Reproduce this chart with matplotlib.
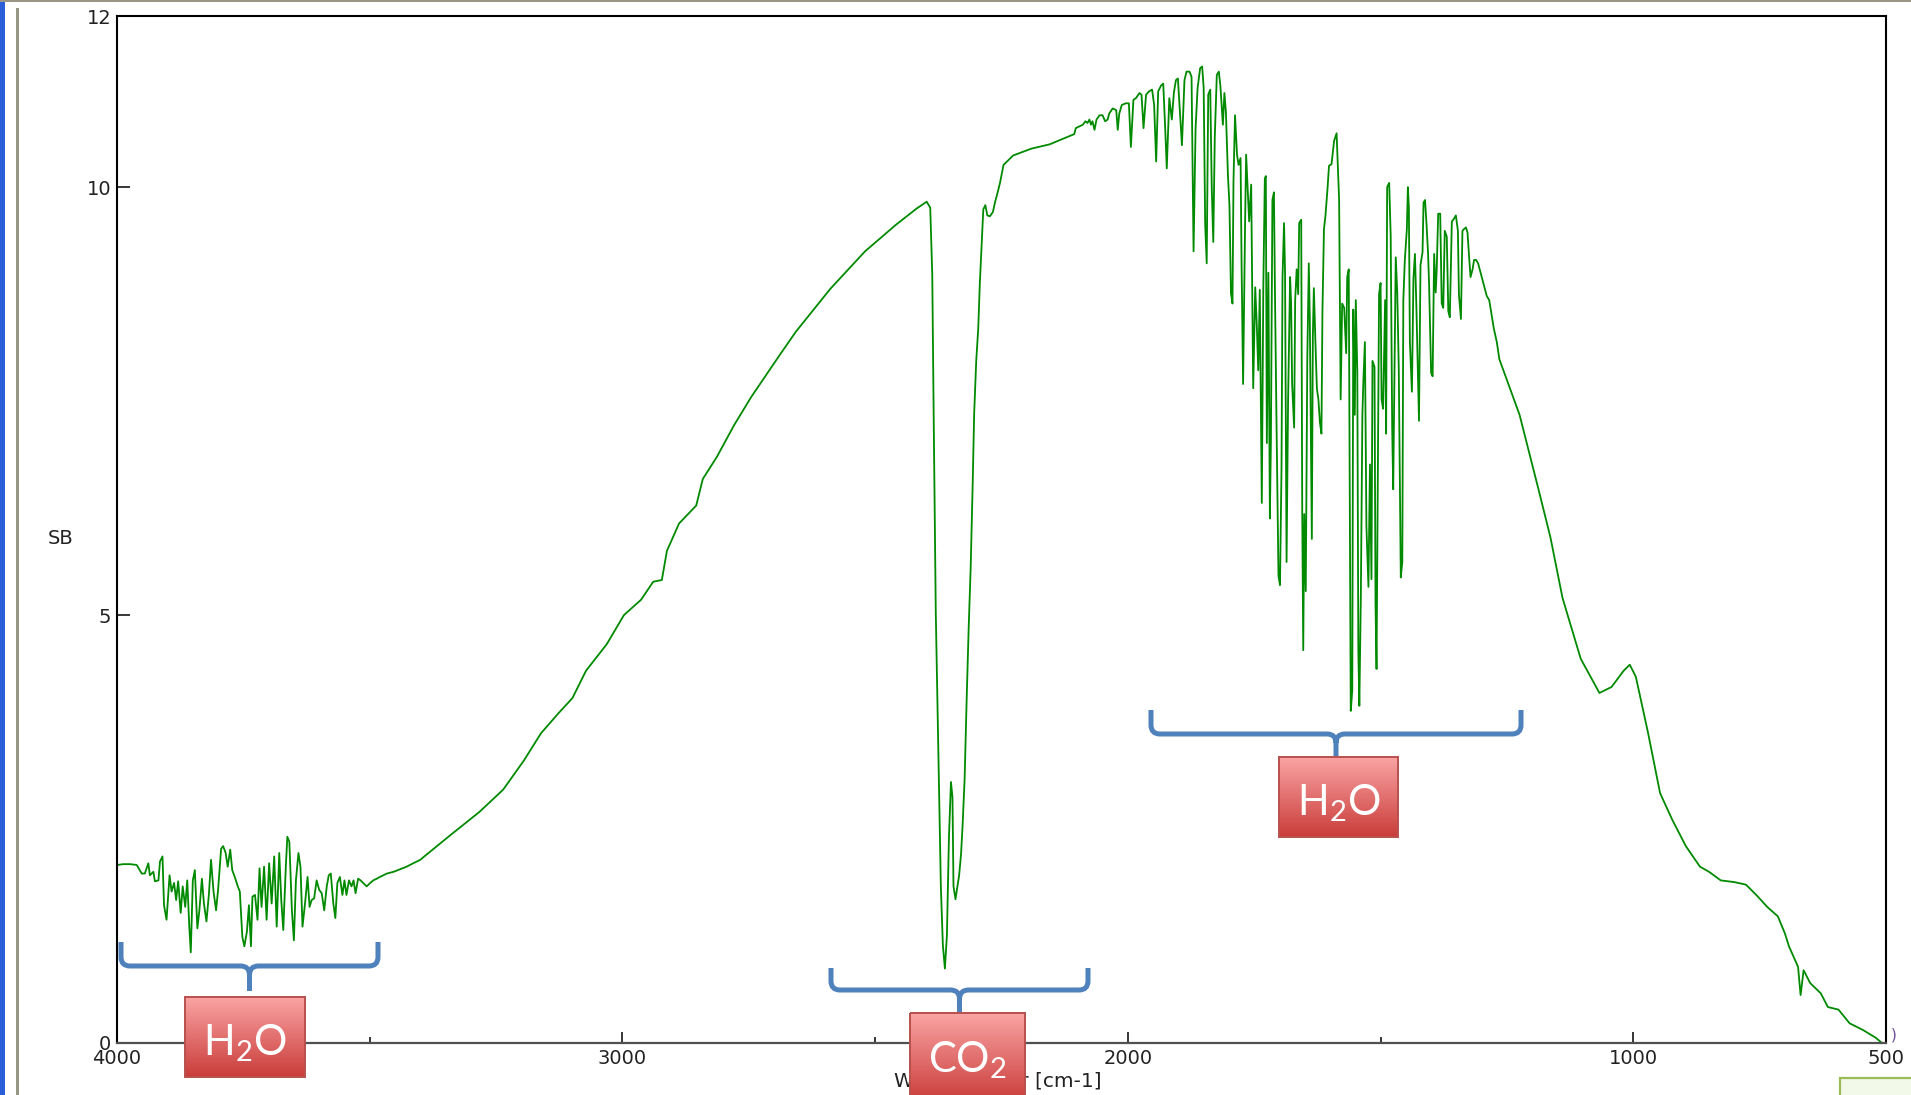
import matplotlib.pyplot as plt
import numpy as np
from matplotlib.patches import Rectangle, PathPatch
from matplotlib.path import Path

plt.rcParams['font.family'] = ['DejaVu Sans']
plt.rcParams['mathtext.fontset'] = 'custom'
plt.rcParams['mathtext.rm'] = 'Lato'
plt.rcParams['mathtext.it'] = 'Lato:italic'

# single beam spectrum, (wavenumber cm-1, SB)
water_high = [(4000, 2.08), (3987, 2.09), (3974, 2.09), (3961, 2.08), (3951, 1.98), (3945, 1.98),
              (3938, 2.10), (3935, 1.96), (3928, 2.00), (3925, 1.89), (3918, 1.90), (3915, 2.12),
              (3910, 2.18), (3907, 1.61), (3902, 1.44), (3896, 1.96), (3892, 1.77), (3887, 1.87),
              (3883, 1.67), (3879, 1.89), (3874, 1.52), (3870, 1.83), (3865, 1.59), (3861, 1.90),
              (3857, 1.36), (3854, 1.06), (3850, 1.90), (3846, 2.02), (3841, 1.34), (3837, 1.55),
              (3832, 1.92), (3828, 1.63), (3823, 1.42), (3818, 1.75), (3814, 2.14), (3809, 1.77),
              (3804, 1.55), (3800, 1.79), (3794, 2.27), (3790, 2.30), (3785, 2.22), (3781, 2.06),
              (3776, 2.26), (3772, 2.02), (3767, 1.94), (3761, 1.83), (3757, 1.77), (3752, 1.24),
              (3748, 1.13), (3743, 1.30), (3739, 1.61), (3735, 1.13), (3732, 1.71), (3727, 1.73),
              (3722, 1.44), (3718, 2.04), (3714, 1.59), (3709, 2.06), (3704, 1.44), (3699, 2.10),
              (3694, 1.63), (3689, 2.18), (3684, 1.36), (3679, 2.22), (3675, 1.67), (3671, 1.32),
              (3666, 2.06), (3663, 2.41), (3659, 2.35), (3654, 1.55), (3650, 1.20), (3646, 1.90),
              (3641, 2.22), (3637, 2.06), (3633, 1.36), (3628, 1.63), (3623, 1.94), (3619, 1.59),
              (3615, 1.67), (3610, 1.69), (3605, 1.90), (3600, 1.79), (3595, 1.75), (3590, 1.55),
              (3585, 1.83), (3581, 1.96), (3577, 1.98), (3572, 1.63), (3568, 1.46), (3564, 1.87),
              (3559, 1.94), (3554, 1.73), (3550, 1.90), (3546, 1.73), (3541, 1.90), (3536, 1.83),
              (3532, 1.90), (3528, 1.75), (3523, 1.92), (3518, 1.90), (3513, 1.87), (3506, 1.83),
              (3499, 1.87), (3493, 1.90), (3486, 1.92), (3480, 1.94), (3466, 1.98), (3453, 2.00),
              (3440, 2.03), (3427, 2.06), (3414, 2.10), (3400, 2.14), (3392, 2.18)]

rise = [(3338, 2.44), (3283, 2.70), (3236, 2.96), (3195, 3.30), (3161, 3.62), (3127, 3.85),
        (3099, 4.03), (3072, 4.35), (3031, 4.66), (2997, 5.00), (2963, 5.18), (2939, 5.39),
        (2922, 5.41), (2912, 5.75), (2888, 6.07), (2854, 6.28), (2841, 6.59), (2813, 6.85),
        (2779, 7.22), (2745, 7.55), (2691, 8.02), (2657, 8.31), (2589, 8.81), (2520, 9.25),
        (2459, 9.56), (2418, 9.75), (2398, 9.83), (2391, 9.76)]

co2 = [(2387, 8.98), (2384, 7.22), (2380, 5.02), (2374, 3.11), (2370, 1.83), (2366, 1.14),
       (2362, 0.87), (2358, 1.26), (2354, 2.40), (2350, 3.05), (2347, 2.87), (2345, 1.83),
       (2341, 1.68), (2338, 1.80), (2334, 1.95), (2330, 2.21), (2327, 2.54), (2323, 3.08),
       (2319, 4.00), (2315, 4.84), (2311, 5.55), (2307, 6.54), (2304, 7.37), (2300, 7.97),
       (2296, 8.35), (2293, 8.86), (2289, 9.37), (2286, 9.74), (2282, 9.79), (2278, 9.67),
       (2273, 9.66), (2267, 9.71), (2263, 9.82), (2258, 9.93), (2253, 10.05), (2246, 10.26),
       (2227, 10.37), (2191, 10.45), (2155, 10.50), (2106, 10.62)]

water_mid = [(2103, 10.69), (2096, 10.71), (2089, 10.73), (2084, 10.77), (2080, 10.75), (2076, 10.79),
             (2073, 10.73), (2070, 10.77), (2066, 10.67), (2062, 10.79), (2056, 10.84), (2050, 10.84),
             (2045, 10.77), (2040, 10.79), (2037, 10.86), (2030, 10.92), (2023, 10.90), (2020, 10.67),
             (2017, 10.86), (2012, 10.96), (2004, 10.98), (1998, 10.98), (1994, 10.47), (1989, 11.02),
             (1984, 11.04), (1977, 11.10), (1973, 11.08), (1969, 10.69), (1964, 11.08), (1958, 11.12),
             (1952, 11.14), (1948, 10.96), (1944, 10.30), (1940, 11.12), (1934, 11.19), (1930, 11.21),
             (1926, 10.67), (1923, 10.22), (1918, 11.04), (1913, 10.79), (1909, 11.10), (1905, 11.25),
             (1901, 11.27), (1897, 10.88), (1893, 10.49), (1888, 11.25), (1884, 11.35), (1878, 11.35),
             (1874, 11.29), (1870, 9.25), (1866, 10.69), (1862, 11.16), (1857, 11.39), (1853, 11.41),
             (1850, 11.16), (1847, 9.56), (1844, 9.11), (1841, 11.08), (1837, 11.14), (1834, 9.99),
             (1831, 9.36), (1828, 10.59), (1824, 11.31), (1820, 11.35), (1817, 11.19), (1812, 10.73),
             (1809, 11.10), (1806, 10.88), (1802, 10.14), (1799, 9.79), (1796, 8.76), (1793, 8.64),
             (1791, 10.07), (1788, 10.84), (1784, 10.38), (1781, 10.26), (1777, 10.34), (1775, 9.09),
             (1772, 7.70), (1768, 9.60), (1766, 10.38), (1763, 9.99), (1760, 9.60), (1756, 10.03),
             (1752, 7.65), (1748, 8.83), (1745, 8.40), (1742, 7.86), (1739, 8.80), (1735, 6.31),
             (1732, 8.83), (1729, 10.10), (1727, 10.13), (1725, 7.01), (1722, 9.00)]

water_low = [(1719, 6.13), (1717, 7.03), (1714, 9.85), (1711, 9.94), (1709, 8.80), (1706, 7.30),
             (1702, 5.46), (1699, 5.35), (1696, 6.72), (1694, 8.95), (1691, 9.58), (1689, 9.00),
             (1686, 5.62), (1683, 7.50), (1679, 8.95), (1677, 8.64), (1675, 7.70), (1671, 7.19),
             (1669, 8.68), (1666, 9.04), (1663, 8.75), (1661, 9.58), (1657, 9.62), (1655, 6.20),
             (1653, 4.59), (1651, 6.18), (1648, 5.28), (1645, 7.99), (1642, 9.11), (1640, 8.46),
             (1636, 5.89), (1634, 8.26), (1632, 8.82), (1628, 8.01), (1626, 7.65), (1623, 7.52),
             (1620, 7.25), (1617, 7.12), (1615, 8.55), (1612, 9.51), (1609, 9.67), (1605, 9.98),
             (1602, 10.25), (1597, 10.27), (1592, 10.54), (1587, 10.63), (1582, 9.85), (1579, 7.52),
             (1576, 8.64), (1572, 8.59), (1568, 8.06), (1566, 8.95), (1563, 9.04), (1561, 6.58),
             (1559, 3.88), (1556, 4.12), (1554, 8.57), (1551, 7.34), (1549, 8.68), (1546, 7.83),
             (1544, 4.59), (1542, 3.94), (1539, 5.24), (1536, 7.34), (1534, 7.74), (1531, 8.19),
             (1528, 6.04), (1524, 5.33), (1521, 6.76), (1518, 5.42), (1516, 7.97), (1512, 7.90),
             (1510, 5.13), (1508, 4.37), (1506, 6.11), (1503, 8.75), (1500, 8.88), (1498, 7.52),
             (1495, 7.41), (1491, 8.68), (1489, 7.12), (1487, 10.00), (1483, 10.05), (1480, 9.44),
             (1477, 7.18), (1475, 6.47), (1473, 7.56), (1470, 9.18), (1467, 8.77), (1464, 7.88),
             (1460, 5.44), (1457, 5.62), (1455, 8.68), (1452, 9.15), (1448, 9.51), (1446, 10.00),
             (1444, 9.76), (1442, 8.19), (1438, 7.61), (1435, 8.93), (1432, 9.22), (1429, 8.57),
             (1424, 7.27), (1421, 9.09), (1417, 9.24), (1415, 9.82), (1412, 9.85), (1409, 9.56),
             (1406, 9.22), (1404, 8.86), (1400, 7.83), (1397, 7.79), (1394, 9.22), (1391, 8.77),
             (1389, 9.02), (1386, 9.69), (1382, 9.69), (1379, 8.64), (1376, 8.59), (1373, 9.49),
             (1369, 9.42), (1366, 8.55), (1363, 8.48), (1359, 9.60), (1356, 9.62), (1351, 9.67),
             (1347, 9.49), (1345, 8.75), (1341, 8.46), (1338, 9.49), (1335, 9.51), (1331, 9.53),
             (1328, 9.47), (1325, 9.20), (1322, 8.95), (1318, 9.04), (1315, 9.15), (1311, 9.15),
             (1307, 9.11), (1303, 9.02), (1297, 8.88), (1290, 8.73), (1285, 8.68), (1280, 8.50),
             (1276, 8.35), (1270, 8.19), (1265, 7.99)]

tail = [(1225, 7.34), (1188, 6.48), (1164, 5.91), (1140, 5.20), (1104, 4.49), (1067, 4.09),
        (1043, 4.16), (1019, 4.35), (1007, 4.42), (995, 4.28), (971, 3.63), (947, 2.92),
        (923, 2.61), (896, 2.30), (868, 2.06), (850, 2.00), (827, 1.90), (800, 1.88),
        (777, 1.85), (755, 1.72), (735, 1.59), (714, 1.48), (700, 1.28), (692, 1.13),
        (674, 0.89), (669, 0.56), (663, 0.85), (650, 0.70), (629, 0.58), (615, 0.42),
        (594, 0.39), (572, 0.23), (545, 0.15), (520, 0.06), (508, 0.00)]

x_ticks = [4000, 3000, 2000, 1000, 500]
x_minor = [3500, 2500, 1500]
y_ticks = [0, 5, 10, 12]

spectrum = water_high + rise + co2 + water_mid + water_low + tail
wn = np.array([p[0] for p in spectrum])
sb = np.array([p[1] for p in spectrum])

W, H = 1911, 1095
fig = plt.figure(figsize=(W / 100, H / 100), dpi=100)
ax = fig.add_axes([117 / W, 1 - 1043 / H, (1886 - 117) / W, (1043 - 16) / H])

ax.plot(wn, sb, color="#008a00", lw=1.3)

ax.set_xlim(4000, 500)
ax.set_ylim(0, 12)
ax.set_xticks(x_ticks)
ax.set_xticklabels([str(t) for t in x_ticks])
ax.set_xticks(x_minor, minor=True)
ax.set_yticks(y_ticks)
ax.set_yticklabels([str(t) for t in y_ticks])
ax.tick_params(axis="both", which="major", direction="in", labelsize=14, width=1.1,
               colors="black", labelcolor="#222222")
ax.tick_params(axis="x", which="major", length=8, pad=4)
ax.tick_params(axis="x", which="minor", direction="in", length=4.5, width=1.1)
ax.tick_params(axis="y", which="major", length=9, pad=4)
for s in ["left", "top", "right"]:
    ax.spines[s].set_linewidth(1.5)
    ax.spines[s].set_color("black")
ax.spines["bottom"].set_linewidth(1.6)
ax.spines["bottom"].set_color("#505050")

fig.text(61 / W, 1 - 538 / H, "SB", ha="center", va="center", fontsize=14, color="#222222")
fig.text(998 / W, 1 - 1081 / H, "Wavenumber [cm-1]", ha="center", va="center",
         fontsize=14.5, color="#222222")

# overlay in pixel units for the slide annotations and window edges
ov = fig.add_axes([0, 0, 1, 1], zorder=5)
ov.set_xlim(0, W)
ov.set_ylim(H, 0)
ov.axis("off")

# window border bits
ov.add_patch(Rectangle((0, 0), 4.5, H, color="#2B5FD9", lw=0))
ov.add_patch(Rectangle((16, 8), 3, H, color="#9A9686", lw=0))
ov.add_patch(Rectangle((0, 0), W, 2, color="#9A9686", lw=0))
ov.add_patch(Rectangle((1840, 1078), 80, 30, facecolor="#F3F9E8", edgecolor="#9BBB59", lw=1.6))
ov.text(1894, 1035, ")", color="#6A4C9C", fontsize=11, ha="center", va="center")

brace_color = "#4F81BD"


def brace(x0, x1, ytop, ymid, ybot, r=9):
    xc = (x0 + x1) / 2
    verts = [(x0, ytop), (x0, ymid - r), (x0, ymid), (x0 + r, ymid), (xc - r, ymid),
             (xc, ymid), (xc, ymid + r), (xc, ybot),
             (x1, ytop), (x1, ymid - r), (x1, ymid), (x1 - r, ymid), (xc + r, ymid),
             (xc, ymid), (xc, ymid + r)]
    codes = [Path.MOVETO, Path.LINETO, Path.CURVE3, Path.CURVE3, Path.LINETO,
             Path.CURVE3, Path.CURVE3, Path.LINETO,
             Path.MOVETO, Path.LINETO, Path.CURVE3, Path.CURVE3, Path.LINETO,
             Path.CURVE3, Path.CURVE3]
    ov.add_patch(PathPatch(Path(verts, codes), facecolor="none", edgecolor=brace_color,
                           lw=3.6, capstyle="butt", joinstyle="round"))


top_rgb = np.array([0.98, 0.64, 0.64])
bot_rgb = np.array([0.79, 0.24, 0.23])
grad = np.linspace(0, 1, 64)[:, None, None] * (bot_rgb - top_rgb) + top_rgb
grad = np.repeat(grad, 2, axis=1)


def label_box(x0, x1, y0, y1, text, ty):
    ov.imshow(grad, extent=(x0, x1, y1, y0), aspect="auto", zorder=3, interpolation="bilinear")
    ov.add_patch(Rectangle((x0, y0), x1 - x0, y1 - y0, facecolor="none",
                           edgecolor="#B9504D", lw=1.4, zorder=4))
    ov.text((x0 + x1) / 2, ty, text, color="white", fontsize=30, ha="center",
            va="center", zorder=5)


brace(121, 378, 942, 966, 991)
brace(831, 1088, 968, 990, 1013)
brace(1151, 1521, 710, 734, 757)

label_box(185, 305, 997, 1077, r"$\mathrm{H_2O}$", 1043)
label_box(910, 1025, 1013, 1102, r"$\mathrm{CO_2}$", 1060)
label_box(1279, 1398, 757, 837, r"$\mathrm{H_2O}$", 803)

ov.set_xlim(0, W)
ov.set_ylim(H, 0)

fig.savefig("out.png", dpi=100)
